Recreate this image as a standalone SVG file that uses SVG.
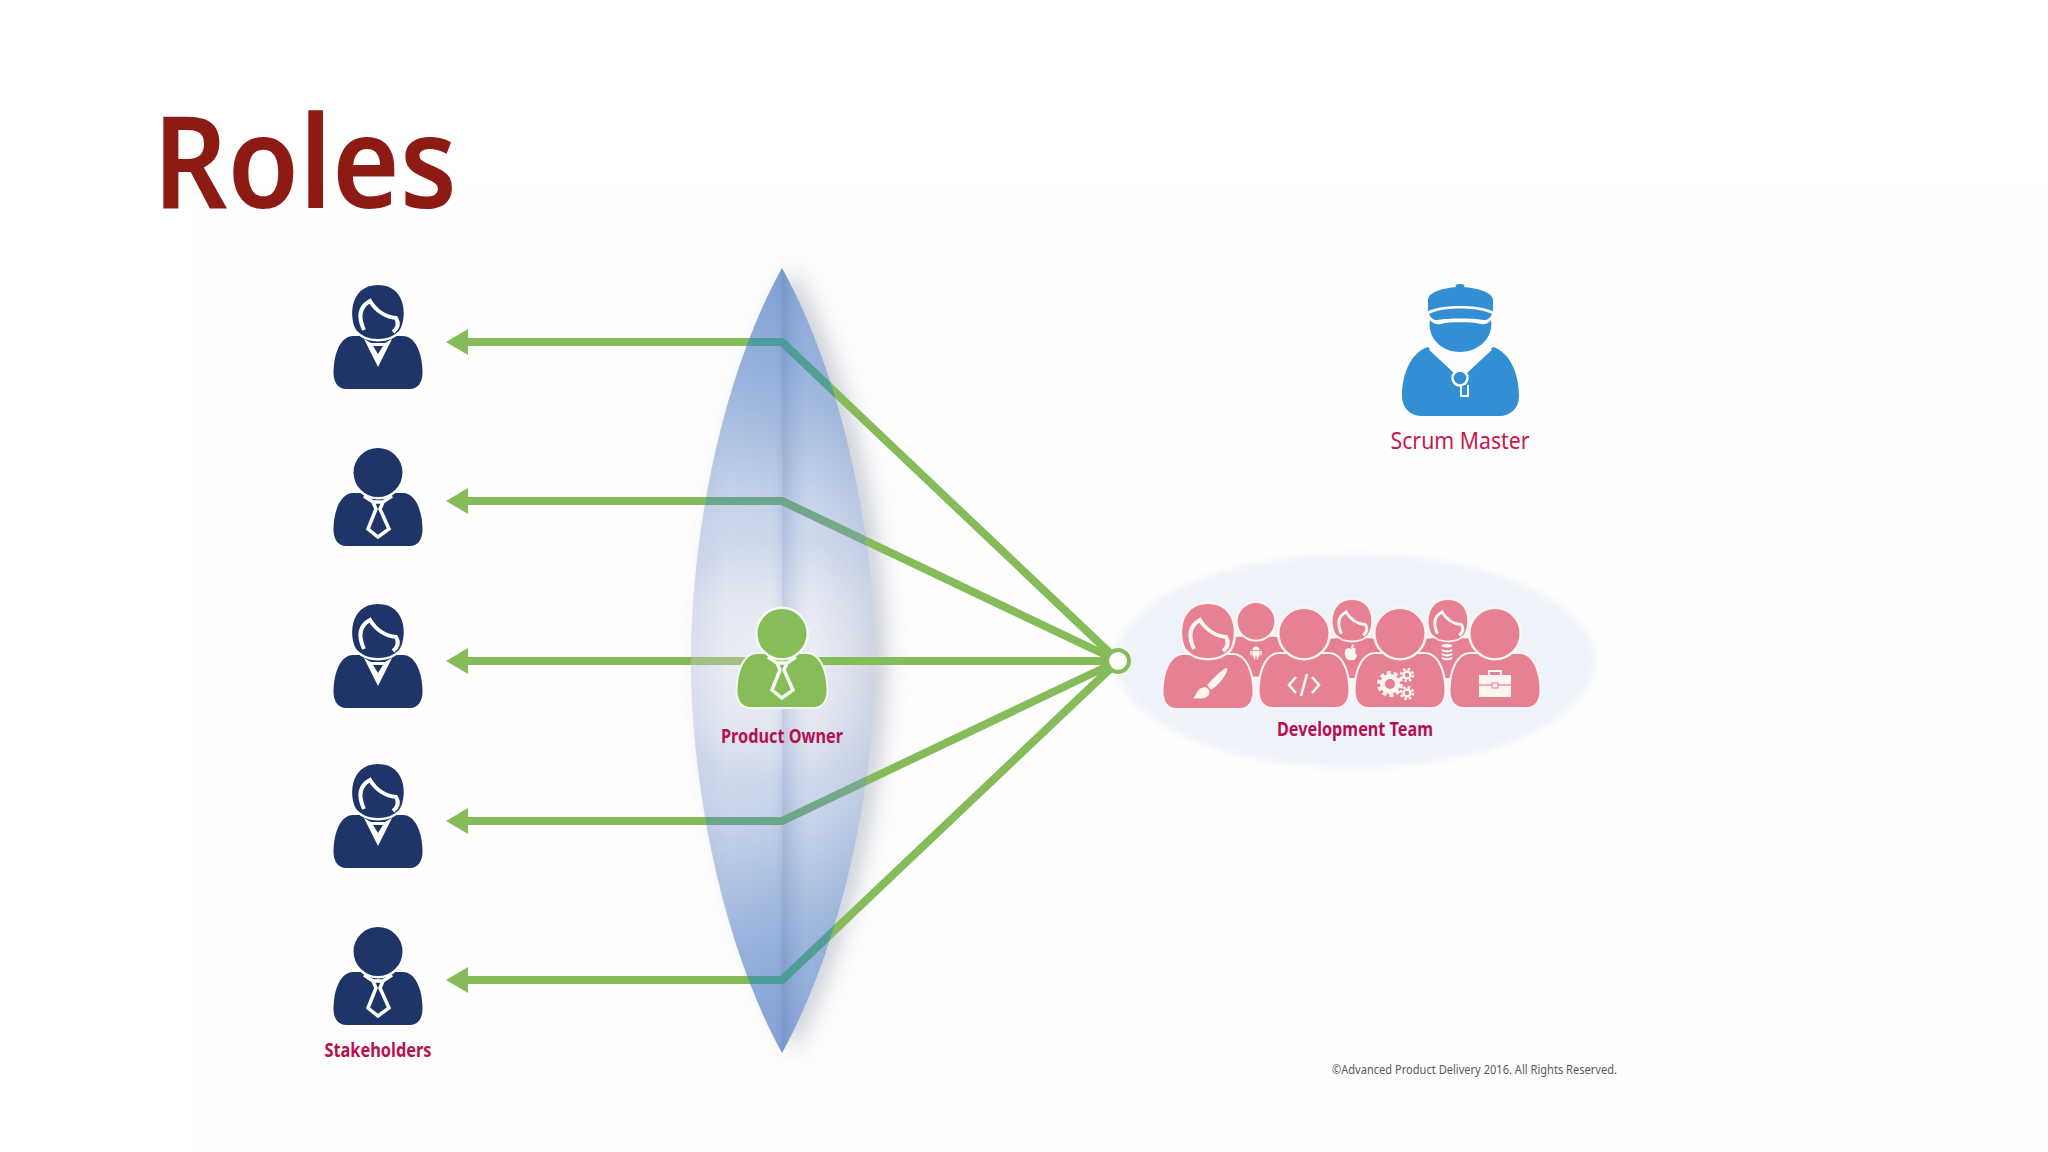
<svg xmlns="http://www.w3.org/2000/svg" xmlns:xlink="http://www.w3.org/1999/xlink" width="2048" height="1152" viewBox="0 0 2048 1152">
<style>
.lab{font-family:"Noto Sans","Liberation Sans",sans-serif;fill:#b8104f;text-anchor:middle;font-weight:700;font-size:19px}
.navy{fill:#1f3567;--g:#fff;--o:none}
.green{fill:#86bd58;--g:#f6faf0;--o:#f6faf0}
.pink{fill:#e68093;--g:#fdf5ef;--o:#fdf5ef}
.b{stroke:var(--o);stroke-width:4;paint-order:stroke}
.h{stroke:var(--g);stroke-width:5;paint-order:stroke}
.l{fill:none;stroke:var(--g);stroke-width:3.500;stroke-linejoin:miter}
.ln{fill:none;stroke:#85bc59;stroke-width:8;stroke-linejoin:round}
.lt{fill:none;stroke:url(#lineTint);stroke-width:8;stroke-linejoin:round}
.ic{fill:#fdf5ef}
.is{fill:none;stroke:#fdf5ef}
</style>
<defs>
<path id="lensShape" d="M782,268C720,380 691,540 691,661C691,780 720,940 782,1053C844,940 875,780 875,661C875,540 844,380 782,268Z"/>
<clipPath id="lensClip"><use href="#lensShape"/></clipPath>
<linearGradient id="lensV" gradientUnits="userSpaceOnUse" x1="0" y1="268" x2="0" y2="1053">
<stop offset="0" stop-color="#7f9fd4"/><stop offset=".13" stop-color="#90acda"/><stop offset=".3" stop-color="#c3d0e8"/><stop offset=".42" stop-color="#dbe1ef"/><stop offset=".5" stop-color="#e1e4ee"/><stop offset=".58" stop-color="#dbe1ef"/><stop offset=".7" stop-color="#c3d0e8"/><stop offset=".87" stop-color="#90acda"/><stop offset="1" stop-color="#7f9fd4"/>
</linearGradient>
<linearGradient id="lensH" gradientUnits="userSpaceOnUse" x1="691" y1="0" x2="875" y2="0">
<stop offset="0" stop-color="#6f88b8" stop-opacity=".08"/><stop offset=".2" stop-color="#fff" stop-opacity=".08"/><stop offset=".42" stop-color="#fff" stop-opacity=".02"/><stop offset=".495" stop-color="#5f78ae" stop-opacity=".12"/><stop offset=".5" stop-color="#5f78ae" stop-opacity=".24"/><stop offset=".66" stop-color="#fff" stop-opacity=".08"/><stop offset=".88" stop-color="#6f80a8" stop-opacity=".08"/><stop offset="1" stop-color="#6f80a8" stop-opacity=".16"/>
</linearGradient>
<radialGradient id="lensGlow" gradientUnits="userSpaceOnUse" cx="782" cy="661" r="125">
<stop offset="0" stop-color="#fff" stop-opacity=".4"/><stop offset="1" stop-color="#fff" stop-opacity="0"/>
</radialGradient>
<linearGradient id="lineTint" gradientUnits="userSpaceOnUse" x1="0" y1="268" x2="0" y2="1053">
<stop offset=".09" stop-color="#4b9c9a"/><stop offset=".3" stop-color="#6fa58c"/><stop offset=".5" stop-color="#a5c084"/><stop offset=".7" stop-color="#6fa58c"/><stop offset=".91" stop-color="#4b9c9a"/>
</linearGradient>
<filter id="soft" x="-30%" y="-10%" width="160%" height="120%"><feGaussianBlur stdDeviation="11"/></filter>
<filter id="soft2" x="-5%" y="-10%" width="110%" height="120%"><feGaussianBlur stdDeviation="3"/></filter>
<marker id="arrow" markerUnits="userSpaceOnUse" markerWidth="22" markerHeight="26" refX="6" refY="13" orient="auto-start-reverse"><path d="M0,0L22,13L0,26Z" fill="#85bc59"/></marker>
<path id="body" d="M-32,53C-40,53 -44.5,46 -44.5,37C-44.5,17 -37,0 -25,0C-12,0 12,0 25,0C37,0 44.5,17 44.5,37C44.5,46 40,53 32,53Z"/>
<g id="mb">
<use href="#body" class="b" y="45"/>
<circle class="h" cx="0" cy="24.5" r="24.5"/>
</g>
<g id="fb">
<use href="#body" class="b" y="51"/>
<path class="h" d="M-21,46C-29,36 -30,0 0,0C30,0 29,36 21,46C16,50 12,54 0,54C-12,54 -16,50 -21,46Z"/>
<path class="l" style="stroke-width:4" d="M-14,45C-20,32 -19,22 -8,16C-2,26 8,32 18,33C21,38 20,43 15,47"/>
</g>
<g id="m">
<use href="#mb"/>
<path class="l" d="M-14,48L-5,54H5L14,48M-5,54L-2,61L-10,81L0,89L11,81L2,61L5,54"/>
</g>
<g id="f">
<use href="#fb"/>
<path d="M-14,54L0,82L14,54L7,58H-7Z" fill="#fff"/>
<path d="M-5,61H5L0,69Z" fill="#1f3567"/>
</g>
</defs>
<rect width="2048" height="1152" fill="#fff"/>
<rect x="195" y="190" width="1853" height="962" fill="#fefefe"/>
<text x="153" y="208" font-family="'Noto Sans','Open Sans',sans-serif" font-weight="600" font-size="129" fill="#8e1a14" textLength="304" lengthAdjust="spacingAndGlyphs">Roles</text>

<g id="lens">
<use href="#lensShape" x="12" fill="#8a93a6" opacity=".42" filter="url(#soft)"/>
<use href="#lensShape" fill="url(#lensV)"/>
<use href="#lensShape" fill="url(#lensGlow)"/>
<use href="#lensShape" fill="url(#lensH)"/>
</g>

<g id="team-ellipse"><ellipse cx="1355" cy="661" rx="240" ry="107" fill="#eef3fb" filter="url(#soft2)"/></g>

<g id="connectors">
<path class="ln" marker-start="url(#arrow)" d="M462,342H782L1112,655"/>
<path class="ln" marker-start="url(#arrow)" d="M462,501H782L1112,658"/>
<path class="ln" marker-start="url(#arrow)" d="M462,661H1112"/>
<path class="ln" marker-start="url(#arrow)" d="M462,821H782L1112,664"/>
<path class="ln" marker-start="url(#arrow)" d="M462,980H782L1112,667"/>
<g clip-path="url(#lensClip)">
<path class="lt" d="M462,342H782L1112,655"/>
<path class="lt" d="M462,501H782L1112,658"/>
<path class="lt" d="M462,661H782"/>
<path class="lt" d="M462,821H782L1112,664"/>
<path class="lt" d="M462,980H782L1112,667"/>
</g>
<circle cx="1118" cy="661" r="11" fill="#fff" stroke="#85bc59" stroke-width="4"/>
</g>

<g id="stakeholder-1"><use href="#f" class="navy" x="378" y="285"/></g>
<g id="stakeholder-2"><use href="#m" class="navy" x="378" y="448"/></g>
<g id="stakeholder-3"><use href="#f" class="navy" x="378" y="604"/></g>
<g id="stakeholder-4"><use href="#f" class="navy" x="378" y="764"/></g>
<g id="stakeholder-5"><use href="#m" class="navy" x="378" y="927"/>
<text class="lab" x="378" y="1057" textLength="107" lengthAdjust="spacingAndGlyphs">Stakeholders</text></g>

<g id="product-owner"><use href="#m" class="green" x="782" y="609"/>
<text class="lab" x="782" y="743" textLength="122" lengthAdjust="spacingAndGlyphs">Product Owner</text></g>

<g id="development-team">
<use href="#mb" class="pink" transform="translate(1256,603) scale(.75)"/>
<use href="#fb" class="pink" transform="translate(1352,600) scale(.75)"/>
<use href="#fb" class="pink" transform="translate(1448,600) scale(.75)"/>
<use href="#fb" class="pink" x="1208" y="604"/>
<use href="#mb" class="pink" x="1304" y="609"/>
<use href="#mb" class="pink" x="1400" y="609"/>
<use href="#mb" class="pink" x="1495" y="609"/>
<path class="ic" d="M1224,669C1226,667 1228,668 1227,671C1224,679 1217,686 1211,690L1207,685C1212,680 1218,673 1224,669ZM1205,687C1209,688 1211,692 1208,696C1205,699 1198,699 1193,698C1197,696 1196,688 1205,687Z"/>
<path class="is" stroke-width="2.600" d="M1296,677L1289,685L1296,693M1312,677L1319,685L1312,693M1307,674L1301,696"/>
<circle class="is" cx="1390" cy="684" r="7.500" stroke-width="5"/><circle class="is" cx="1390" cy="684" r="11" stroke-width="4" stroke-dasharray="4 2.900"/>
<circle class="is" cx="1407" cy="675" r="3.500" stroke-width="2.500"/><circle class="is" cx="1407" cy="675" r="6" stroke-width="2.400" stroke-dasharray="2.600 2.100"/>
<circle class="is" cx="1407" cy="693" r="3.500" stroke-width="2.500"/><circle class="is" cx="1407" cy="693" r="6" stroke-width="2.400" stroke-dasharray="2.600 2.100"/>
<path class="ic" d="M1479,675H1511V697H1479Z"/><path fill="none" stroke="#fdf5ef" stroke-width="2" d="M1489,675V671H1501V675"/><path d="M1479,685H1511" stroke="#e68093" stroke-width="1.200"/><rect x="1492" y="683" width="6" height="5" fill="#fdf5ef" stroke="#e68093" stroke-width="1"/>
<path class="ic" transform="translate(1256,653) scale(.72) translate(-1256,-654)" d="M1251,650A5,5 0 0 1 1261,650ZM1251,651H1261V659H1251ZM1248,651H1250V657H1248ZM1262,651H1264V657H1262ZM1253,659H1255V663H1253ZM1257,659H1259V663H1257Z"/>
<path class="ic" d="M1351,649C1347,646 1344,650 1345,655C1346,660 1349,661 1351,660C1353,661 1356,660 1357,655C1355,654 1355,650 1356,649C1354,647 1352,648 1351,649ZM1351,648C1351,646 1352,645 1354,644C1354,646 1353,648 1351,648Z"/>
<path class="ic" transform="translate(1447,652) scale(.88) translate(-1447,-653)" d="M1441,646a6,2 0 0 1 12,0a6,2 0 0 1 -12,0ZM1441,649.5c3,2 9,2 12,0v2.5c-3,2 -9,2 -12,0ZM1441,654c3,2 9,2 12,0v2.5c-3,2 -9,2 -12,0ZM1441,658.500c3,2 9,2 12,0v2.500c-3,2 -9,2 -12,0Z"/>
<text class="lab" x="1355" y="736" textLength="156" lengthAdjust="spacingAndGlyphs">Development Team</text>
</g>

<g id="scrum-master">
<path fill="#338fd3" d="M1428,347C1412,352 1402,372 1402,396C1402,408 1410,416 1422,416H1499C1511,416 1519,408 1519,396C1519,372 1509,352 1493,347L1462,378H1459Z"/>
<path fill="none" stroke="#fff" stroke-width="2.500" d="M1430,349L1455,372M1491,349L1466,372"/>
<circle cx="1460" cy="378" r="7.500" fill="#338fd3" stroke="#fff" stroke-width="2.500"/>
<path d="M1461,386V396H1468V385" fill="#338fd3" stroke="#fff" stroke-width="2"/>
<path fill="#338fd3" d="M1430,320C1434,325 1438,325 1445,323C1450,322 1470,322 1476,323C1483,325 1487,325 1491,320C1494,336 1480,352 1460,352C1440,352 1427,336 1430,320Z"/>
<path fill="#338fd3" d="M1429,314C1440,309 1450,308.500 1460,308.500C1470,308.500 1481,309 1492,314C1490,318 1488,320 1484,320C1476,319 1470,318.500 1460,318.500C1450,318.500 1444,319 1437,320C1433,320 1431,318 1429,314Z"/>
<path fill="#338fd3" d="M1428,311V300C1428,292 1445,287 1460,287C1475,287 1493,292 1493,300V311C1482,307 1472,306 1460,306C1448,306 1438,307 1428,311Z"/>
<ellipse cx="1460" cy="286" rx="4.500" ry="2" fill="#338fd3"/>
<text x="1460" y="449" font-family="'Noto Sans','Liberation Sans',sans-serif" font-size="24" fill="#c9174f" text-anchor="middle" textLength="139" lengthAdjust="spacingAndGlyphs">Scrum Master</text>
</g>

<text x="1332" y="1074" font-family="'Noto Sans','Liberation Sans',sans-serif" font-size="13" fill="#555a60" textLength="285" lengthAdjust="spacingAndGlyphs">©Advanced Product Delivery 2016. All Rights Reserved.</text>
</svg>
